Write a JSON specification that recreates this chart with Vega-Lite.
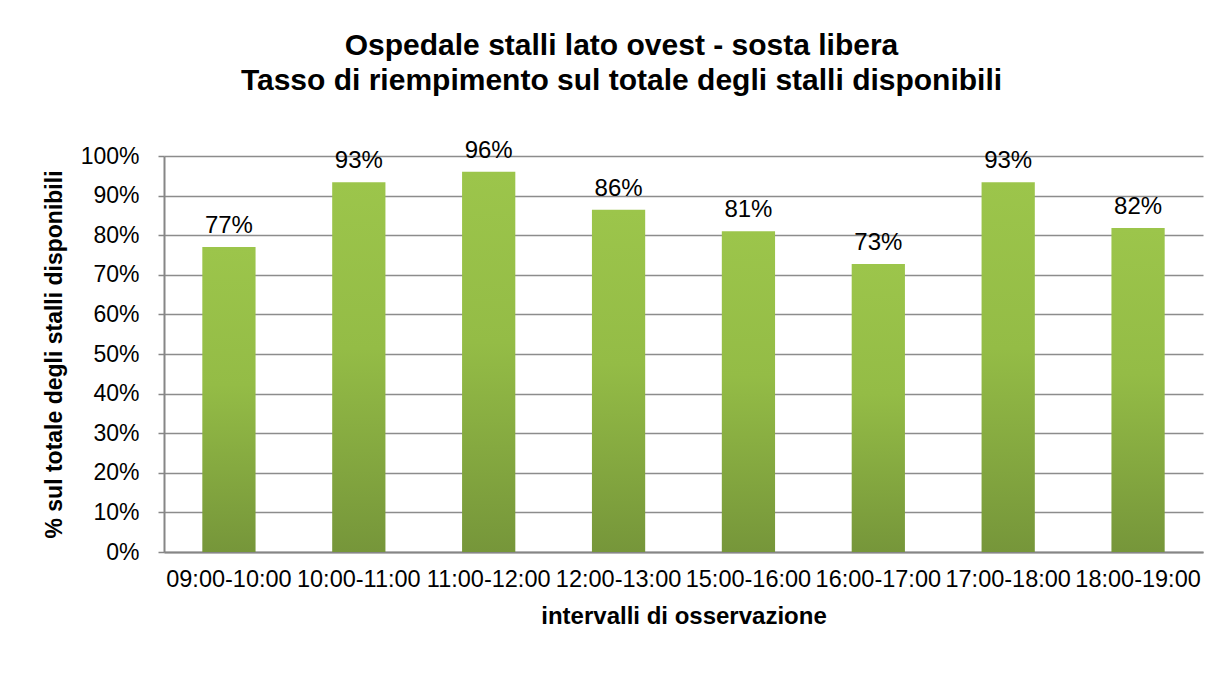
{
  "$schema": "https://vega.github.io/schema/vega-lite/v6.json",
  "width": 1039,
  "height": 396,
  "autosize": {"type": "none"},
  "padding": {"left": 164, "top": 156, "right": 22, "bottom": 135},
  "background": "white",
  "config": {
    "font": "Liberation Sans",
    "view": {"stroke": null}
  },
  "title": {
    "text": ["Ospedale stalli lato ovest - sosta libera", "Tasso di riempimento sul totale degli stalli disponibili"],
    "fontSize": 30,
    "fontWeight": "bold",
    "color": "black",
    "anchor": "middle",
    "dx": -62,
    "offset": 43,
    "lineHeight": 35
  },
  "data": {
    "values": [
      {"intervallo": "09:00-10:00", "tasso": 0.77},
      {"intervallo": "10:00-11:00", "tasso": 0.934},
      {"intervallo": "11:00-12:00", "tasso": 0.96},
      {"intervallo": "12:00-13:00", "tasso": 0.864},
      {"intervallo": "15:00-16:00", "tasso": 0.81},
      {"intervallo": "16:00-17:00", "tasso": 0.727},
      {"intervallo": "17:00-18:00", "tasso": 0.934},
      {"intervallo": "18:00-19:00", "tasso": 0.818}
    ]
  },
  "encoding": {
    "x": {
      "field": "intervallo",
      "type": "nominal",
      "sort": null,
      "scale": {"paddingInner": 0.59, "paddingOuter": 0.295},
      "axis": {
        "title": "intervalli di osservazione",
        "titleFontSize": 24,
        "titleFontWeight": "bold",
        "titleColor": "black",
        "titlePadding": 14,
        "labelFontSize": 23.5,
        "labelColor": "black",
        "labelAngle": 0,
        "labelPadding": 15,
        "labelOverlap": false,
        "labelBaseline": "top",
        "ticks": false,
        "domainColor": "#868686",
        "domainWidth": 2,
        "grid": false
      }
    },
    "y": {
      "field": "tasso",
      "type": "quantitative",
      "scale": {"domain": [0, 1], "nice": false},
      "axis": {
        "title": "% sul totale degli stalli disponibili",
        "titleFontSize": 23,
        "titleFontWeight": "bold",
        "titleColor": "black",
        "titlePadding": 14,
        "format": ".0%",
        "values": [0, 0.1, 0.2, 0.3, 0.4, 0.5, 0.6, 0.7, 0.8, 0.9, 1],
        "labelFontSize": 23,
        "labelColor": "black",
        "labelPadding": 19,
        "tickSize": 6,
        "tickColor": "#868686",
        "tickWidth": 1.5,
        "domainColor": "#868686",
        "domainWidth": 2,
        "gridColor": "#8c8c8c",
        "gridWidth": 1.5
      }
    }
  },
  "layer": [
    {
      "mark": {
        "type": "bar",
        "color": {
          "gradient": "linear",
          "x1": 0, "y1": 0, "x2": 0, "y2": 1,
          "stops": [
            {"offset": 0, "color": "#9cc54b"},
            {"offset": 0.45, "color": "#94bc46"},
            {"offset": 1, "color": "#76963a"}
          ]
        }
      }
    },
    {
      "mark": {"type": "text", "baseline": "alphabetic", "dy": -14, "fontSize": 24, "color": "black"},
      "encoding": {
        "text": {"field": "tasso", "type": "quantitative", "format": ".0%"}
      }
    }
  ]
}
